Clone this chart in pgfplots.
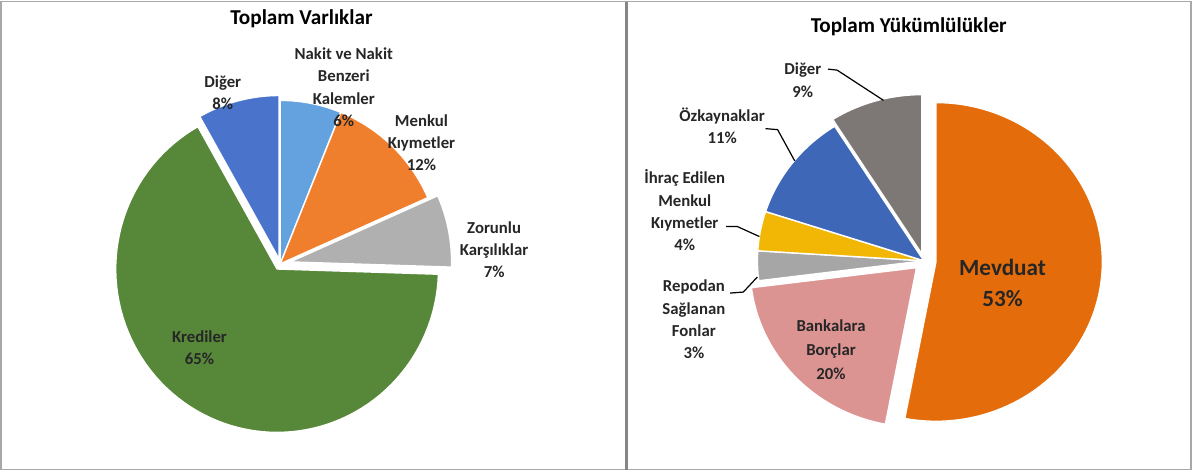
\documentclass[border=0pt]{standalone}
\usepackage{pgfplots}
\pgfplotsset{compat=1.18}
\usepackage{fontspec}
\setmainfont{Carlito}
\definecolor{cDigerL}{HTML}{4A74CC}
\definecolor{cNakit}{HTML}{63A2DE}
\definecolor{cMenkul}{HTML}{F07F2D}
\definecolor{cZorunlu}{HTML}{B0B0B0}
\definecolor{cKredi}{HTML}{57883A}
\definecolor{cMevduat}{HTML}{E46C0A}
\definecolor{cBanka}{HTML}{DC9492}
\definecolor{cRepo}{HTML}{A6A6A6}
\definecolor{cIhrac}{HTML}{F2B705}
\definecolor{cOzk}{HTML}{3F67B8}
\definecolor{cDigerR}{HTML}{7D7775}
\definecolor{frame}{HTML}{A8A8A8}
\definecolor{txt}{HTML}{262626}
% #1 cx, #2 cy, #3 rx, #4 ry, #5 cumulative start, #6 cumulative end, #7 total, #8 explode (px), #9 colour
\newcommand{\pieslice}[9]{%
  \pgfmathsetmacro\aA{#5/#7*360}%
  \pgfmathsetmacro\aB{#6/#7*360}%
  \pgfmathsetmacro\aM{(\aA+\aB)/2}%
  \pgfmathsetmacro\ox{#1+#8*sin(\aM)}%
  \pgfmathsetmacro\oy{#2-#8*cos(\aM)}%
  \edef\doslice{\noexpand\addplot[fill=#9, draw=white, line width=0.7pt, domain=\aA:\aB, samples=90, variable=\noexpand\t]
    ({\ox+#3*sin(\noexpand\t)}, {\oy-#4*cos(\noexpand\t)}) -- (axis cs:\ox,\oy) -- cycle;}%
  \doslice}
\begin{document}
\begin{tikzpicture}
\begin{axis}[x=0.5pt, y=0.5pt, scale only axis, xmin=0, xmax=1192, ymin=0, ymax=470,
  y dir=reverse, hide axis, clip=false, at={(0,0)}, anchor=north west]
% frames
\draw[frame, line width=0.8pt] (axis cs:10,4) rectangle (axis cs:1190,468);
\draw[frame!80!black, line width=1.5pt] (axis cs:630,4) -- (axis cs:630,468);
% ---------- Toplam Varlıklar (total 98) ----------
% Nakit 6, Menkul 12, Zorunlu 7, Krediler 65, Diğer 8
\pieslice{287}{264}{160}{162}{0}{6}{98}{0}{cNakit}
\pieslice{287}{264}{160}{162}{6}{18}{98}{0}{cMenkul}
\pieslice{287}{264}{160}{162}{18}{25}{98}{10}{cZorunlu}
\pieslice{287}{264}{160}{162}{25}{90}{98}{6}{cKredi}
\pieslice{287}{264}{160}{162}{90}{98}{98}{5}{cDigerL}
% ---------- Toplam Yükümlülükler (total 100) ----------
% Mevduat 53, Bankalara 20, Repodan 3, İhraç 4, Özkaynaklar 11, Diğer 9
\pieslice{925}{261}{165}{158}{0}{53}{100}{12}{cMevduat}
\pieslice{925}{261}{165}{158}{53}{73}{100}{10}{cBanka}
\pieslice{925}{261}{165}{158}{73}{76}{100}{0}{cRepo}
\pieslice{925}{261}{165}{158}{76}{80}{100}{0}{cIhrac}
\pieslice{925}{261}{165}{158}{80}{91}{100}{0}{cOzk}
\pieslice{925}{261}{165}{158}{91}{100}{100}{7}{cDigerR}
% leader lines
\addplot[black, line width=0.6pt] coordinates {(830,71) (839,72) (885,102)};
\addplot[black, line width=0.6pt] coordinates {(768,130) (780,131) (797,162)};
\addplot[black, line width=0.6pt] coordinates {(729,227) (740,227) (762,237)};
\addplot[black, line width=0.6pt] coordinates {(733,293) (746,292) (760,277)};
% titles
\node[font=\fontsize{10.5}{12}\selectfont\bfseries, text=black] at (axis cs:308,21) {Toplam Varlıklar};
\node[font=\fontsize{10.5}{12}\selectfont\bfseries, text=black] at (axis cs:910,29) {Toplam Yükümlülükler};
% labels left
\begin{scope}[every node/.style={font=\fontsize{8.3}{11}\selectfont\bfseries, text=txt, align=center, inner sep=0pt}]
\node at (axis cs:230,94) {Diğer\\8\%};
\node at (axis cs:350,89) {Nakit ve Nakit\\Benzeri\\Kalemler\\6\%};
\node at (axis cs:427,144) {Menkul\\Kıymetler\\12\%};
\node at (axis cs:499,250) {Zorunlu\\Karşılıklar\\7\%};
\node at (axis cs:207,347) {Krediler\\65\%};
% labels right
\node at (axis cs:805,82) {Diğer\\9\%};
\node at (axis cs:725,127) {Özkaynaklar\\11\%};
\node at (axis cs:688,211) {İhraç Edilen\\Menkul\\Kıymetler\\4\%};
\node at (axis cs:697,319) {Repodan\\Sağlanan\\Fonlar\\3\%};
\node[font=\fontsize{8.3}{12}\selectfont\bfseries] at (axis cs:833,349) {Bankalara\\Borçlar\\20\%};
\node[font=\fontsize{11.5}{15.5}\selectfont\bfseries] at (axis cs:1003,283) {Mevduat\\53\%};
\end{scope}
\end{axis}
\end{tikzpicture}
\end{document}
